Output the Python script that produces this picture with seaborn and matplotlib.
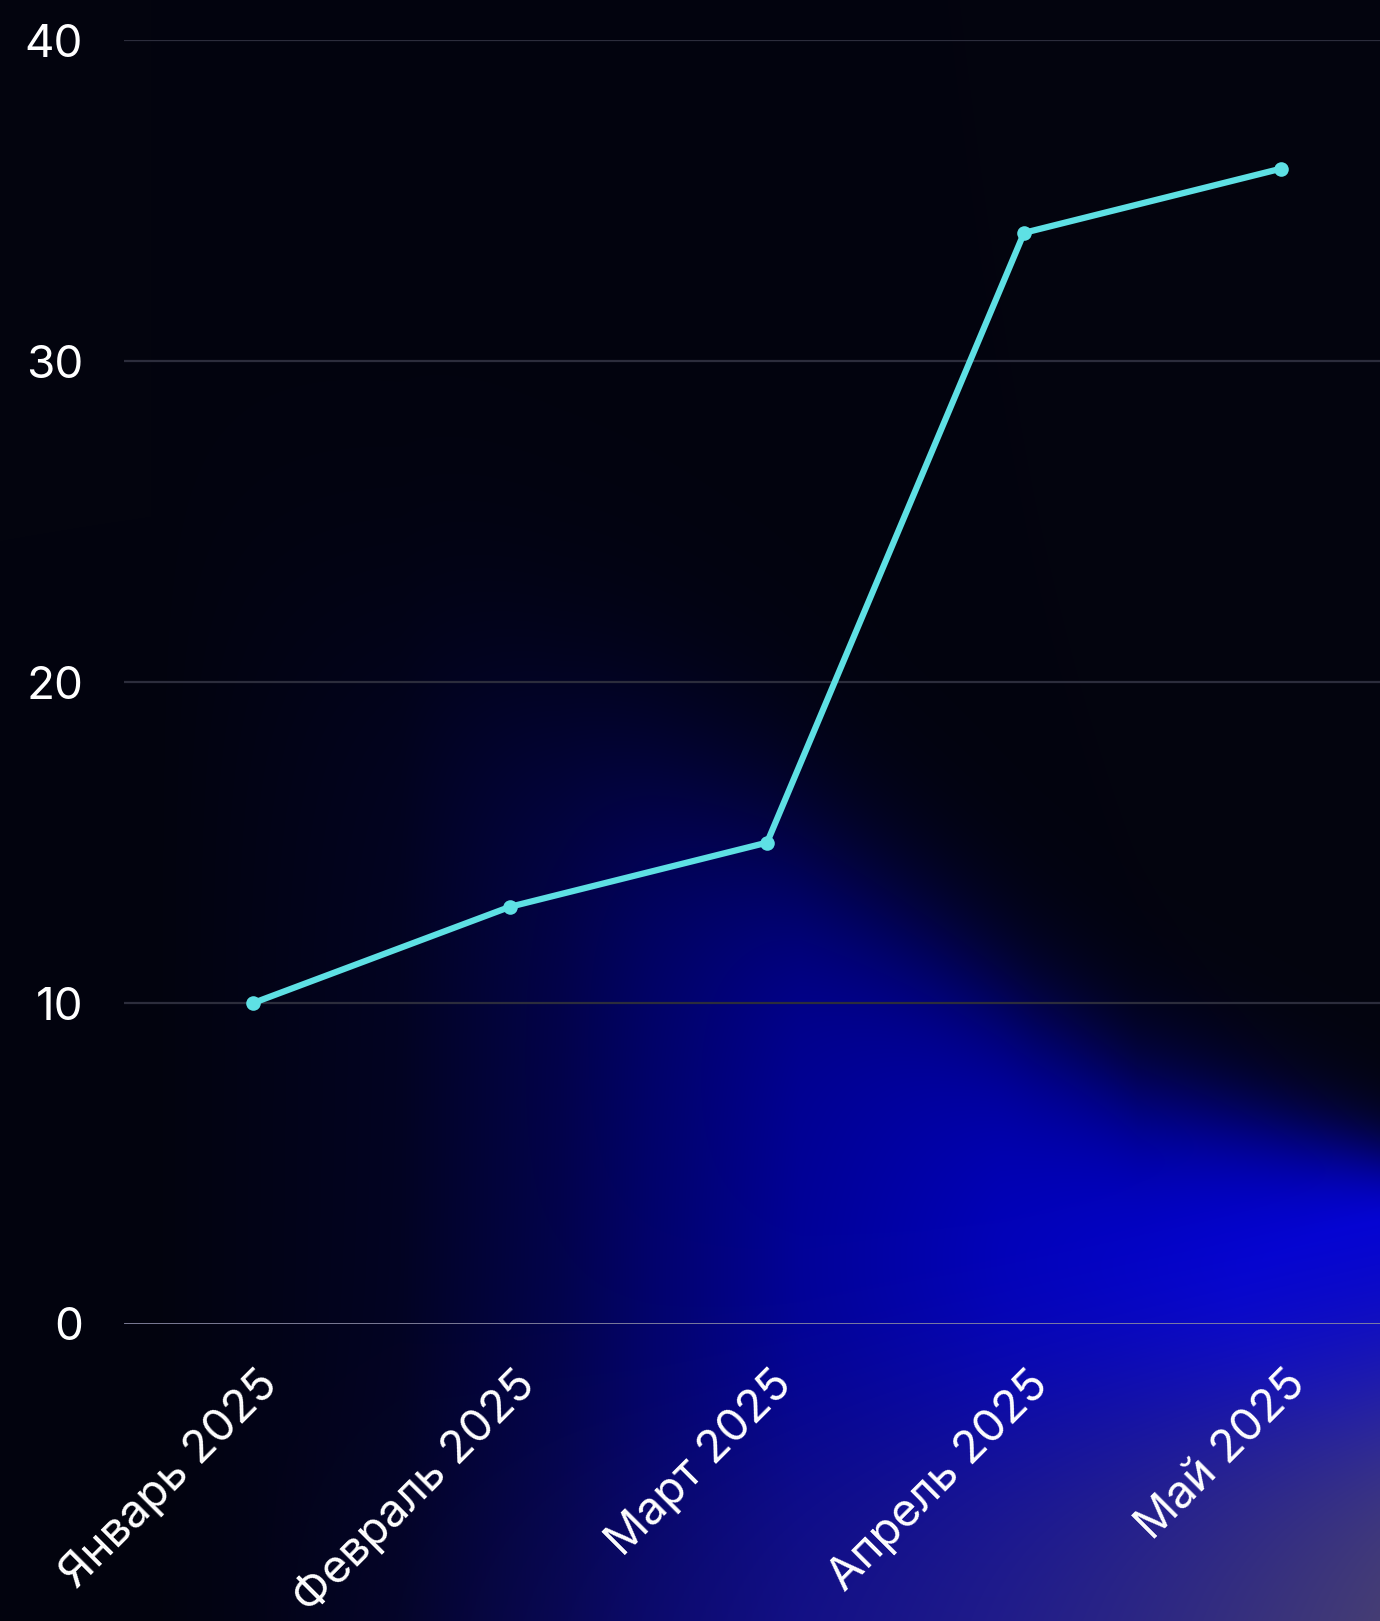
import numpy as np
import pandas as pd
import matplotlib
matplotlib.use("Agg")
import matplotlib.pyplot as plt
import matplotlib.transforms as mtransforms
import seaborn as sns

# ---- data ----
months = ["Январь 2025", "Февраль 2025", "Март 2025", "Апрель 2025", "Май 2025"]
values = [10, 13, 15, 34, 36]
y_ticks = [0, 10, 20, 30, 40]

sns.set_theme(style="dark")
plt.rcParams["font.family"] = ["Inter", "DejaVu Sans"]

W, H = 1380, 1621
fig = plt.figure(figsize=(W / 100, H / 100), dpi=100)
fig.patch.set_facecolor("#03040e")

# ---- background glow ----
yy, xx = np.mgrid[0:H, 0:W].astype(float)
base = np.array([3, 4, 14]) / 255.0
edge_x = [0, 400, 767, 930, 1034, 1137, 1380]
edge_y = [520, 640, 843, 955, 1030, 1090, 1155]
ye = np.interp(xx[0], edge_x, edge_y)[None, :]
width = np.interp(xx[0], [0, 700, 1380], [110, 70, 25])[None, :]
mask = 1.0 / (1.0 + np.exp(-(yy - ye) / width))
hfac = np.interp(xx[0], [150, 400, 560, 650, 800, 1000, 1300, 1380],
                 [0.0, 0.1, 0.3, 0.45, 0.66, 0.8, 0.9, 0.95])[None, :]
core = np.exp(-(((xx - 1420) / 450.0) ** 2 + ((yy - 1290) / 150.0) ** 2))
I = np.clip(mask * hfac + core * 0.15 * mask, 0, 1)
blue = np.array([0, 0, 218]) / 255.0
img = base[None, None, :] * (1 - I[..., None]) + I[..., None] * blue[None, None, :]

yp = np.interp(xx[0], [0, 700, 1380], [1500, 1460, 1400])[None, :]
P = 1.0 / (1.0 + np.exp(-(yy - yp) / 70.0)) * np.clip((xx - 250) / 1130.0, 0, 1) ** 1.1
pc = np.stack([np.interp(xx[0], [300, 1380], [20, 72]),
               np.interp(xx[0], [300, 1380], [14, 64]),
               np.interp(xx[0], [300, 1380], [110, 112])], axis=-1)[None, :, :] / 255.0
img = img * (1 - P[..., None]) + P[..., None] * pc
img = np.clip(img, 0, 1)

bg = fig.add_axes([0, 0, 1, 1], zorder=-10)
bg.imshow(img, aspect="auto", extent=[0, 1, 0, 1], origin="upper")
bg.axis("off")

# ---- main axes ----
ax = fig.add_axes([124 / W, 1 - 1324 / H, 1 - 124 / W, (1324 - 40.3) / H])
ax.set_facecolor("none")

df = pd.DataFrame({"month": months, "value": values})
sns.lineplot(data=df, x="month", y="value", ax=ax, sort=False,
             color="#5ee0e4", linewidth=4.5, marker="o", markersize=10.5,
             markeredgewidth=0, zorder=5)

ax.set_xlim(-0.502, 4.385)
ax.set_ylim(0, 40)
ax.set_yticks(y_ticks)
ax.set_yticklabels([str(v) for v in y_ticks])
ax.set_xlabel("")
ax.set_ylabel("")
ax.grid(False)
for v in y_ticks[1:]:
    ax.axhline(v, color="#2c2d3c", linewidth=1.6, zorder=1)
ax.axhline(0, color="#8686a0", linewidth=2.0, zorder=1)
for sp in ax.spines.values():
    sp.set_visible(False)

ax.tick_params(axis="y", length=0, pad=29.5, labelsize=33, labelcolor="white")
ax.tick_params(axis="x", length=0, pad=39, labelsize=33, labelcolor="white")
ax.set_xticks(range(len(months)))
ax.set_xticklabels(months)
offset = mtransforms.ScaledTranslation(0.18, 0, fig.dpi_scale_trans)
for lab in ax.get_xticklabels():
    lab.set_rotation(45)
    lab.set_ha("right")
    lab.set_va("center")
    lab.set_rotation_mode("anchor")
    lab.set_transform(lab.get_transform() + offset)

fig.savefig("out.png", dpi=100, facecolor=fig.get_facecolor())
